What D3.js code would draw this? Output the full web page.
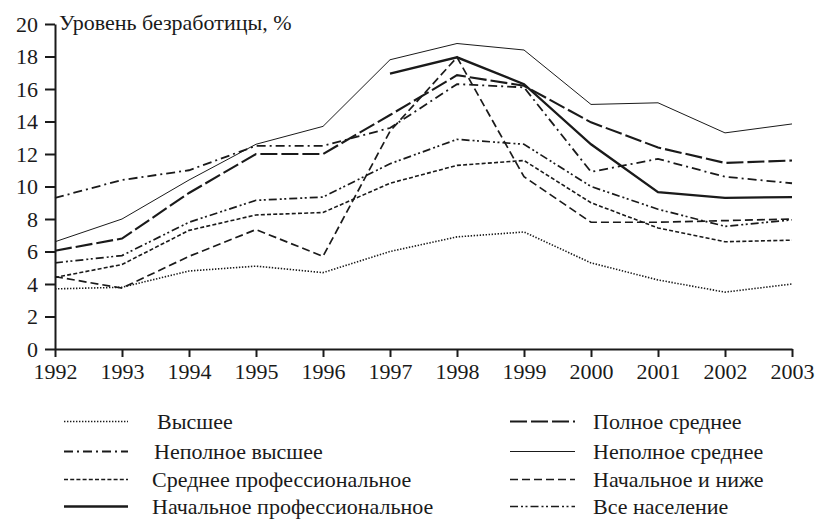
<!DOCTYPE html>
<html><head><meta charset="utf-8">
<script src="https://cdn.jsdelivr.net/npm/d3@7"></script>
<style>
html,body{margin:0;padding:0;background:#fff;}
</style></head>
<body><svg id="c" width="818" height="519"></svg>
<script>
const years = [1992,1993,1994,1995,1996,1997,1998,1999,2000,2001,2002,2003];
const yTicks = [0,2,4,6,8,10,12,14,16,18,20];
const vysshee          = [3.7, 3.8, 4.8, 5.1, 4.7, 6.0, 6.9, 7.2, 5.3, 4.25, 3.5, 4.0];
const nepolnoeVysshee  = [9.3, 10.4, 11.0, 12.5, 12.5, 13.6, 16.3, 16.1, 10.9, 11.7, 10.6, 10.2];
const sredneeProf      = [4.4, 5.2, 7.3, 8.25, 8.4, 10.2, 11.3, 11.6, 9.0, 7.45, 6.6, 6.7];
const nachalnoeProf    = [null, null, null, null, null, 16.95, 17.95, 16.3, 12.6, 9.65, 9.3, 9.35];
const polnoeSrednee    = [6.05, 6.8, 9.6, 12.0, 12.0, 14.4, 16.85, 16.2, 13.95, 12.4, 11.45, 11.6];
const nepolnoeSrednee  = [6.6, 8.0, 10.4, 12.6, 13.7, 17.8, 18.8, 18.4, 15.05, 15.15, 13.3, 13.85];
const nachalnoeINizhe  = [4.45, 3.75, 5.7, 7.35, 5.7, 13.4, 17.95, 10.6, 7.8, 7.8, 7.9, 8.0];
const vseNaselenie     = [5.3, 5.75, 7.8, 9.15, 9.35, 11.4, 12.9, 12.6, 10.0, 8.6, 7.55, 7.95];
const seriesNames = ["Высшее","Неполное высшее","Среднее профессиональное","Начальное профессиональное",
                     "Полное среднее","Неполное среднее","Начальное и ниже","Все население"];
const seriesValues = [vysshee, nepolnoeVysshee, sredneeProf, nachalnoeProf, polnoeSrednee, nepolnoeSrednee, nachalnoeINizhe, vseNaselenie];
const styles = [
  {w:1.6, d:"1.4,1.6"},
  {w:1.8, d:"9,4,2,4"},
  {w:1.6, d:"4,2.2"},
  {w:2.3, d:null},
  {w:2.1, d:"17,4"},
  {w:1.0, d:null},
  {w:1.7, d:"8,4"},
  {w:1.7, d:"8,3,2,2.5,2,3"}
];
const FONT = "'Liberation Serif', 'DejaVu Serif', 'Times New Roman', Times, serif";
const svg = d3.select("#c");
const x = d3.scaleLinear().domain([1992,2003]).range([55,792]);
const y = d3.scaleLinear().domain([0,20]).range([349,24]);
const col = "#1a1a1a";

const line = d3.line().defined(d=>d[1]!=null).x(d=>x(d[0])).y(d=>y(d[1]));
seriesValues.forEach((vals,i)=>{
  svg.append("path").datum(years.map((yr,j)=>[yr,vals[j]]))
    .attr("d",line).attr("fill","none").attr("stroke",col)
    .attr("stroke-width",styles[i].w).attr("stroke-dasharray",styles[i].d)
    .attr("stroke-linejoin","miter");
});

// axes
const yAxis = d3.axisLeft(y).tickValues(yTicks).tickSize(10).tickPadding(6).tickSizeOuter(0);
const gy = svg.append("g").attr("transform","translate(55,0)").call(yAxis);
const xAxis = d3.axisBottom(x).tickValues(years).tickFormat(d3.format("d")).tickSize(8).tickPadding(6).tickSizeOuter(0);
const gx = svg.append("g").attr("transform","translate(0,349)").call(xAxis);
[gy,gx].forEach(g=>{
  g.attr("font-family",FONT).attr("font-size",22);
  g.select(".domain").attr("stroke",col).attr("stroke-width",2);
  g.selectAll(".tick line").attr("stroke",col).attr("stroke-width",2);
  g.selectAll("text").attr("fill",col).attr("font-family",FONT).attr("font-size",22);
});
gy.selectAll("text").attr("dy","0.33em").attr("x",-17);

svg.append("text").attr("x",59).attr("y",30).attr("font-size",22)
  .attr("font-family",FONT).attr("fill",col).text("Уровень безработицы, %");

// legend
const rowsY = [421.5, 451.5, 479.5, 506.5];
const legend = [
  {i:0, col:0, row:0, tx:157},
  {i:1, col:0, row:1, tx:154},
  {i:2, col:0, row:2, tx:152},
  {i:3, col:0, row:3, tx:152},
  {i:4, col:1, row:0, tx:593},
  {i:5, col:1, row:1, tx:593},
  {i:6, col:1, row:2, tx:593},
  {i:7, col:1, row:3, tx:593}
];
const sampleX = [[64,128],[510,575]];
legend.forEach(L=>{
  const yy = rowsY[L.row];
  svg.append("line").attr("x1",sampleX[L.col][0]).attr("x2",sampleX[L.col][1])
    .attr("y1",yy).attr("y2",yy).attr("stroke",col)
    .attr("stroke-width",styles[L.i].w).attr("stroke-dasharray",styles[L.i].d);
  svg.append("text").attr("x",L.tx).attr("y",yy+7.5).attr("font-size",22)
    .attr("font-family",FONT).attr("fill",col).text(seriesNames[L.i]);
});
</script></body></html>
